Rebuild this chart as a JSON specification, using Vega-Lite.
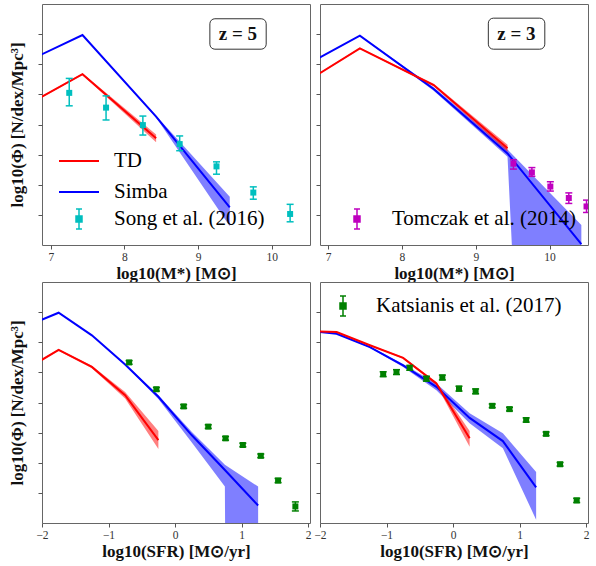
{
  "$schema": "https://vega.github.io/schema/vega-lite/v6.json",
  "padding": {"left": 8, "top": 3, "right": 5, "bottom": 5},
  "background": "white",
  "datasets": {
    "curves": [
      {"p": "TL", "m": "Simba", "x": 6.43, "y": -2.19, "lo": -2.2, "hi": -2.18},
      {"p": "TL", "m": "Simba", "x": 7.43, "y": -1.03, "lo": -1.04, "hi": -1.02},
      {"p": "TL", "m": "Simba", "x": 8.43, "y": -3.74, "lo": -3.77, "hi": -3.71},
      {"p": "TL", "m": "Simba", "x": 9.43, "y": -6.75, "lo": -7.38, "hi": -6.4},
      {"p": "TL", "m": "TD", "x": 6.43, "y": -3.69, "lo": -3.71, "hi": -3.67},
      {"p": "TL", "m": "TD", "x": 7.43, "y": -2.33, "lo": -2.36, "hi": -2.3},
      {"p": "TL", "m": "TD", "x": 8.43, "y": -4.46, "lo": -4.59, "hi": -4.33},
      {"p": "TR", "m": "Simba", "x": 6.43, "y": -2.39, "lo": -2.4, "hi": -2.38},
      {"p": "TR", "m": "Simba", "x": 7.43, "y": -1.05, "lo": -1.06, "hi": -1.04},
      {"p": "TR", "m": "Simba", "x": 8.43, "y": -2.82, "lo": -2.88, "hi": -2.76},
      {"p": "TR", "m": "Simba", "x": 9.43, "y": -4.96, "lo": -5.07, "hi": -4.83},
      {"p": "TR", "m": "Simba", "x": 10.43, "y": -7.97, "lo": -55, "hi": -7.34},
      {"p": "TR", "m": "TD", "x": 6.43, "y": -3.0, "lo": -3.02, "hi": -2.98},
      {"p": "TR", "m": "TD", "x": 7.43, "y": -1.47, "lo": -1.49, "hi": -1.45},
      {"p": "TR", "m": "TD", "x": 8.43, "y": -2.69, "lo": -2.73, "hi": -2.65},
      {"p": "TR", "m": "TD", "x": 9.43, "y": -4.79, "lo": -4.91, "hi": -4.67},
      {"p": "BL", "m": "Simba", "x": -2.25, "y": -1.48, "lo": -1.49, "hi": -1.47},
      {"p": "BL", "m": "Simba", "x": -1.75, "y": -1.02, "lo": -1.03, "hi": -1.01},
      {"p": "BL", "m": "Simba", "x": -1.25, "y": -1.77, "lo": -1.78, "hi": -1.76},
      {"p": "BL", "m": "Simba", "x": -0.75, "y": -2.74, "lo": -2.76, "hi": -2.72},
      {"p": "BL", "m": "Simba", "x": -0.25, "y": -3.81, "lo": -3.88, "hi": -3.76},
      {"p": "BL", "m": "Simba", "x": 0.25, "y": -5.08, "lo": -5.32, "hi": -4.97},
      {"p": "BL", "m": "Simba", "x": 0.75, "y": -6.24, "lo": -6.79, "hi": -6.07},
      {"p": "BL", "m": "Simba", "x": 1.25, "y": -7.42, "lo": -200, "hi": -6.79},
      {"p": "BL", "m": "TD", "x": -2.25, "y": -2.91, "lo": -2.93, "hi": -2.89},
      {"p": "BL", "m": "TD", "x": -1.75, "y": -2.25, "lo": -2.28, "hi": -2.22},
      {"p": "BL", "m": "TD", "x": -1.25, "y": -2.82, "lo": -2.86, "hi": -2.78},
      {"p": "BL", "m": "TD", "x": -0.75, "y": -3.76, "lo": -3.87, "hi": -3.65},
      {"p": "BL", "m": "TD", "x": -0.25, "y": -5.25, "lo": -5.54, "hi": -4.95},
      {"p": "BR", "m": "Simba", "x": -2.25, "y": -1.6, "lo": -1.61, "hi": -1.59},
      {"p": "BR", "m": "Simba", "x": -1.75, "y": -1.72, "lo": -1.73, "hi": -1.71},
      {"p": "BR", "m": "Simba", "x": -1.25, "y": -2.16, "lo": -2.18, "hi": -2.14},
      {"p": "BR", "m": "Simba", "x": -0.75, "y": -2.77, "lo": -2.82, "hi": -2.72},
      {"p": "BR", "m": "Simba", "x": -0.25, "y": -3.48, "lo": -3.59, "hi": -3.37},
      {"p": "BR", "m": "Simba", "x": 0.25, "y": -4.51, "lo": -4.69, "hi": -4.36},
      {"p": "BR", "m": "Simba", "x": 0.75, "y": -5.28, "lo": -5.52, "hi": -5.02},
      {"p": "BR", "m": "Simba", "x": 1.25, "y": -6.82, "lo": -7.89, "hi": -6.31},
      {"p": "BR", "m": "TD", "x": -2.25, "y": -1.62, "lo": -1.63, "hi": -1.61},
      {"p": "BR", "m": "TD", "x": -1.75, "y": -1.66, "lo": -1.67, "hi": -1.65},
      {"p": "BR", "m": "TD", "x": -1.25, "y": -2.1, "lo": -2.12, "hi": -2.08},
      {"p": "BR", "m": "TD", "x": -0.75, "y": -2.52, "lo": -2.55, "hi": -2.49},
      {"p": "BR", "m": "TD", "x": -0.25, "y": -3.37, "lo": -3.42, "hi": -3.32},
      {"p": "BR", "m": "TD", "x": 0.25, "y": -5.19, "lo": -5.47, "hi": -4.95}
    ],
    "obs": [
      {"p": "TL", "s": "Song et al. (2016)", "x": 7.25, "y": -2.95, "lo": -3.38, "hi": -2.47},
      {"p": "TL", "s": "Song et al. (2016)", "x": 7.75, "y": -3.44, "lo": -3.85, "hi": -3.05},
      {"p": "TL", "s": "Song et al. (2016)", "x": 8.25, "y": -4.02, "lo": -4.35, "hi": -3.72},
      {"p": "TL", "s": "Song et al. (2016)", "x": 8.75, "y": -4.65, "lo": -4.87, "hi": -4.38},
      {"p": "TL", "s": "Song et al. (2016)", "x": 9.25, "y": -5.39, "lo": -5.65, "hi": -5.24},
      {"p": "TL", "s": "Song et al. (2016)", "x": 9.75, "y": -6.26, "lo": -6.48, "hi": -6.07},
      {"p": "TL", "s": "Song et al. (2016)", "x": 10.25, "y": -6.97, "lo": -7.23, "hi": -6.65},
      {"p": "TR", "s": "Tomczak et al. (2014)", "x": 9.51, "y": -5.3, "lo": -5.48, "hi": -5.17},
      {"p": "TR", "s": "Tomczak et al. (2014)", "x": 9.76, "y": -5.59, "lo": -5.72, "hi": -5.43},
      {"p": "TR", "s": "Tomczak et al. (2014)", "x": 10.01, "y": -6.06, "lo": -6.21, "hi": -5.9},
      {"p": "TR", "s": "Tomczak et al. (2014)", "x": 10.26, "y": -6.44, "lo": -6.62, "hi": -6.27},
      {"p": "TR", "s": "Tomczak et al. (2014)", "x": 10.5, "y": -6.72, "lo": -6.92, "hi": -6.51},
      {"p": "BL", "s": "Katsianis et al. (2017)", "x": -0.69, "y": -2.67, "lo": -2.73, "hi": -2.61},
      {"p": "BL", "s": "Katsianis et al. (2017)", "x": -0.28, "y": -3.56, "lo": -3.62, "hi": -3.5},
      {"p": "BL", "s": "Katsianis et al. (2017)", "x": 0.13, "y": -4.13, "lo": -4.19, "hi": -4.07},
      {"p": "BL", "s": "Katsianis et al. (2017)", "x": 0.5, "y": -4.8, "lo": -4.86, "hi": -4.74},
      {"p": "BL", "s": "Katsianis et al. (2017)", "x": 0.76, "y": -5.19, "lo": -5.25, "hi": -5.13},
      {"p": "BL", "s": "Katsianis et al. (2017)", "x": 1.02, "y": -5.41, "lo": -5.47, "hi": -5.35},
      {"p": "BL", "s": "Katsianis et al. (2017)", "x": 1.29, "y": -5.77, "lo": -5.83, "hi": -5.71},
      {"p": "BL", "s": "Katsianis et al. (2017)", "x": 1.55, "y": -6.59, "lo": -6.66, "hi": -6.52},
      {"p": "BL", "s": "Katsianis et al. (2017)", "x": 1.81, "y": -7.45, "lo": -7.6, "hi": -7.3},
      {"p": "BR", "s": "Katsianis et al. (2017)", "x": -1.05, "y": -3.06, "lo": -3.14, "hi": -2.98},
      {"p": "BR", "s": "Katsianis et al. (2017)", "x": -0.85, "y": -2.99, "lo": -3.07, "hi": -2.91},
      {"p": "BR", "s": "Katsianis et al. (2017)", "x": -0.65, "y": -2.85, "lo": -2.93, "hi": -2.77},
      {"p": "BR", "s": "Katsianis et al. (2017)", "x": -0.4, "y": -3.21, "lo": -3.29, "hi": -3.13},
      {"p": "BR", "s": "Katsianis et al. (2017)", "x": -0.16, "y": -3.17, "lo": -3.25, "hi": -3.09},
      {"p": "BR", "s": "Katsianis et al. (2017)", "x": 0.09, "y": -3.54, "lo": -3.62, "hi": -3.46},
      {"p": "BR", "s": "Katsianis et al. (2017)", "x": 0.34, "y": -3.63, "lo": -3.71, "hi": -3.55},
      {"p": "BR", "s": "Katsianis et al. (2017)", "x": 0.59, "y": -4.11, "lo": -4.17, "hi": -4.05},
      {"p": "BR", "s": "Katsianis et al. (2017)", "x": 0.85, "y": -4.22, "lo": -4.28, "hi": -4.16},
      {"p": "BR", "s": "Katsianis et al. (2017)", "x": 1.1, "y": -4.58, "lo": -4.65, "hi": -4.51},
      {"p": "BR", "s": "Katsianis et al. (2017)", "x": 1.4, "y": -5.04, "lo": -5.1, "hi": -4.98},
      {"p": "BR", "s": "Katsianis et al. (2017)", "x": 1.61, "y": -6.05, "lo": -6.11, "hi": -5.99},
      {"p": "BR", "s": "Katsianis et al. (2017)", "x": 1.86, "y": -7.25, "lo": -7.32, "hi": -7.18}
    ]
  },
  "config": {
    "view": {"stroke": "#666666", "strokeWidth": 1},
    "font": "Liberation Serif",
    "axis": {
      "grid": false, "domain": false, "tickColor": "#555555", "tickSize": 4, "labelFlush": false, "labelOverlap": false,
      "labelFont": "Liberation Serif", "labelFontSize": 11.5, "labelColor": "#333333", "labelPadding": 2,
      "titleFont": "Liberation Serif", "titleFontSize": 17, "titleFontWeight": "bold", "titleColor": "#111111"
    },
    "axisX": {"titlePadding": 3},
    "axisY": {"titlePadding": 11},
    "legend": {"labelFont": "Liberation Serif", "labelFontSize": 21, "labelColor": "#000000", "labelLimit": 400, "padding": 0}
  },
  "columns": 2,
  "spacing": {"row": -2, "column": 1},
  "resolve": {"scale": {"color": "independent", "stroke": "independent", "fill": "independent"}},
  "concat": [
    {
      "width": 268, "height": 241,
      "layer": [
        {"data": {"name": "curves"}, "transform": [{"filter": "datum.p == 'TL'"}],
         "mark": {"type": "area", "clip": true, "opacity": 0.5},
         "encoding": {
           "x": {"field": "x", "type": "quantitative", "scale": {"domain": [6.88, 10.52], "nice": false, "zero": false}, "axis": {"values": [7, 8, 9, 10], "format": "d", "title": "log10(M*) [M⊙]"}},
           "y": {"field": "hi", "type": "quantitative", "scale": {"domain": [-8, 0], "nice": false}, "axis": {"values": [-7, -6, -5, -4, -3, -2, -1], "labels": false, "title": "log10(Φ) [N/dex/Mpc³]"}}, "y2": {"field": "lo"},
           "fill": {"field": "m", "type": "nominal", "scale": {"domain": ["Simba", "TD"], "range": ["#0000ff", "#ff0000"]}, "legend": null}}},
        {"data": {"name": "curves"}, "transform": [{"filter": "datum.p == 'TL'"}],
         "mark": {"type": "line", "clip": true, "strokeWidth": 2},
         "encoding": {
           "x": {"field": "x", "type": "quantitative", "scale": {"domain": [6.88, 10.52], "nice": false, "zero": false}, "axis": {"values": [7, 8, 9, 10], "format": "d", "title": "log10(M*) [M⊙]"}},
           "y": {"field": "y", "type": "quantitative", "scale": {"domain": [-8, 0], "nice": false}, "axis": {"values": [-7, -6, -5, -4, -3, -2, -1], "labels": false, "title": "log10(Φ) [N/dex/Mpc³]"}},
           "stroke": {"field": "m", "type": "nominal", "scale": {"domain": ["TD", "Simba"], "range": ["#ff0000", "#0000ff"]},
             "legend": {"title": null, "orient": "none", "legendX": 26, "legendY": 146, "symbolType": "M-2,0H2", "symbolSize": 400, "symbolStrokeWidth": 2, "labelOffset": 24, "rowPadding": 10}}}},
        {"data": {"name": "obs"}, "transform": [{"filter": "datum.p == 'TL'"}],
         "mark": {"type": "rule", "clip": true, "strokeWidth": 1.5},
         "encoding": {
           "x": {"field": "x", "type": "quantitative", "scale": {"domain": [6.88, 10.52], "nice": false, "zero": false}, "axis": {"values": [7, 8, 9, 10], "format": "d", "title": "log10(M*) [M⊙]"}},
           "y": {"field": "hi", "type": "quantitative", "scale": {"domain": [-8, 0], "nice": false}, "axis": {"values": [-7, -6, -5, -4, -3, -2, -1], "labels": false, "title": "log10(Φ) [N/dex/Mpc³]"}}, "y2": {"field": "lo"},
           "color": {"field": "s", "type": "nominal", "scale": {"range": ["#00bfbf"]},
             "legend": {"title": null, "orient": "none", "legendX": 26, "legendY": 204, "symbolType": "M0,-1V1M-0.3,-1H0.3M-0.3,1H0.3M-0.3,-0.3H0.3V0.3H-0.3Z", "symbolSize": 400, "symbolStrokeWidth": 1.5, "symbolFillColor": "#00bfbf", "labelOffset": 24}}}},
        {"data": {"name": "obs"}, "transform": [{"filter": "datum.p == 'TL'"}],
         "mark": {"type": "tick", "orient": "horizontal", "clip": true, "size": 7, "thickness": 1.5, "color": "#00bfbf", "opacity": 1},
         "encoding": {
           "x": {"field": "x", "type": "quantitative", "scale": {"domain": [6.88, 10.52], "nice": false, "zero": false}, "axis": {"values": [7, 8, 9, 10], "format": "d", "title": "log10(M*) [M⊙]"}},
           "y": {"field": "hi", "type": "quantitative", "scale": {"domain": [-8, 0], "nice": false}, "axis": {"values": [-7, -6, -5, -4, -3, -2, -1], "labels": false, "title": "log10(Φ) [N/dex/Mpc³]"}}}},
        {"data": {"name": "obs"}, "transform": [{"filter": "datum.p == 'TL'"}],
         "mark": {"type": "tick", "orient": "horizontal", "clip": true, "size": 7, "thickness": 1.5, "color": "#00bfbf", "opacity": 1},
         "encoding": {
           "x": {"field": "x", "type": "quantitative", "scale": {"domain": [6.88, 10.52], "nice": false, "zero": false}, "axis": {"values": [7, 8, 9, 10], "format": "d", "title": "log10(M*) [M⊙]"}},
           "y": {"field": "lo", "type": "quantitative", "scale": {"domain": [-8, 0], "nice": false}, "axis": {"values": [-7, -6, -5, -4, -3, -2, -1], "labels": false, "title": "log10(Φ) [N/dex/Mpc³]"}}}},
        {"data": {"name": "obs"}, "transform": [{"filter": "datum.p == 'TL'"}],
         "mark": {"type": "square", "clip": true, "size": 36, "color": "#00bfbf", "opacity": 1},
         "encoding": {
           "x": {"field": "x", "type": "quantitative", "scale": {"domain": [6.88, 10.52], "nice": false, "zero": false}, "axis": {"values": [7, 8, 9, 10], "format": "d", "title": "log10(M*) [M⊙]"}},
           "y": {"field": "y", "type": "quantitative", "scale": {"domain": [-8, 0], "nice": false}, "axis": {"values": [-7, -6, -5, -4, -3, -2, -1], "labels": false, "title": "log10(Φ) [N/dex/Mpc³]"}}}},
        {"data": {"values": [{"t": "z = 5"}]},
         "mark": {"type": "rect", "fill": "white", "stroke": "#333333", "strokeWidth": 1, "cornerRadius": 5},
         "encoding": {
           "x": {"datum": 9.16, "type": "quantitative", "axis": {"values": [7, 8, 9, 10], "format": "d", "title": "log10(M*) [M⊙]"}}, "x2": {"datum": 9.925},
           "y": {"datum": -0.49, "type": "quantitative", "axis": {"values": [-7, -6, -5, -4, -3, -2, -1], "labels": false, "title": "log10(Φ) [N/dex/Mpc³]"}}, "y2": {"datum": -1.5}}},
        {"data": {"values": [{"t": "z = 5"}]},
         "mark": {"type": "text", "font": "Liberation Serif", "fontSize": 19, "fontWeight": "bold", "align": "center", "baseline": "middle", "color": "#111111"},
         "encoding": {
           "x": {"datum": 9.54, "type": "quantitative", "axis": {"values": [7, 8, 9, 10], "format": "d", "title": "log10(M*) [M⊙]"}},
           "y": {"datum": -1.0, "type": "quantitative", "axis": {"values": [-7, -6, -5, -4, -3, -2, -1], "labels": false, "title": "log10(Φ) [N/dex/Mpc³]"}}, "text": {"field": "t"}}}
      ]
    },
    {
      "width": 268, "height": 241,
      "layer": [
        {"data": {"name": "curves"}, "transform": [{"filter": "datum.p == 'TR'"}],
         "mark": {"type": "area", "clip": true, "opacity": 0.5},
         "encoding": {
           "x": {"field": "x", "type": "quantitative", "scale": {"domain": [6.89, 10.52], "nice": false, "zero": false}, "axis": {"values": [7, 8, 9, 10], "format": "d", "title": "log10(M*) [M⊙]"}},
           "y": {"field": "hi", "type": "quantitative", "scale": {"domain": [-8, 0], "nice": false}, "axis": {"values": [-7, -6, -5, -4, -3, -2, -1], "labels": false, "title": null}}, "y2": {"field": "lo"},
           "fill": {"field": "m", "type": "nominal", "scale": {"domain": ["Simba", "TD"], "range": ["#0000ff", "#ff0000"]}, "legend": null}}},
        {"data": {"name": "curves"}, "transform": [{"filter": "datum.p == 'TR'"}],
         "mark": {"type": "line", "clip": true, "strokeWidth": 2},
         "encoding": {
           "x": {"field": "x", "type": "quantitative", "scale": {"domain": [6.89, 10.52], "nice": false, "zero": false}, "axis": {"values": [7, 8, 9, 10], "format": "d", "title": "log10(M*) [M⊙]"}},
           "y": {"field": "y", "type": "quantitative", "scale": {"domain": [-8, 0], "nice": false}, "axis": {"values": [-7, -6, -5, -4, -3, -2, -1], "labels": false, "title": null}},
           "stroke": {"field": "m", "type": "nominal", "scale": {"domain": ["TD", "Simba"], "range": ["#ff0000", "#0000ff"]}, "legend": null}}},
        {"data": {"name": "obs"}, "transform": [{"filter": "datum.p == 'TR'"}],
         "mark": {"type": "rule", "clip": true, "strokeWidth": 1.5},
         "encoding": {
           "x": {"field": "x", "type": "quantitative", "scale": {"domain": [6.89, 10.52], "nice": false, "zero": false}, "axis": {"values": [7, 8, 9, 10], "format": "d", "title": "log10(M*) [M⊙]"}},
           "y": {"field": "hi", "type": "quantitative", "scale": {"domain": [-8, 0], "nice": false}, "axis": {"values": [-7, -6, -5, -4, -3, -2, -1], "labels": false, "title": null}}, "y2": {"field": "lo"},
           "color": {"field": "s", "type": "nominal", "scale": {"range": ["#bf00bf"]},
             "legend": {"title": null, "orient": "none", "legendX": 26, "legendY": 204, "symbolType": "M0,-1V1M-0.3,-1H0.3M-0.3,1H0.3M-0.3,-0.3H0.3V0.3H-0.3Z", "symbolSize": 400, "symbolStrokeWidth": 1.5, "symbolFillColor": "#bf00bf", "labelOffset": 24}}}},
        {"data": {"name": "obs"}, "transform": [{"filter": "datum.p == 'TR'"}],
         "mark": {"type": "tick", "orient": "horizontal", "clip": true, "size": 7, "thickness": 1.5, "color": "#bf00bf", "opacity": 1},
         "encoding": {
           "x": {"field": "x", "type": "quantitative", "scale": {"domain": [6.89, 10.52], "nice": false, "zero": false}, "axis": {"values": [7, 8, 9, 10], "format": "d", "title": "log10(M*) [M⊙]"}},
           "y": {"field": "hi", "type": "quantitative", "scale": {"domain": [-8, 0], "nice": false}, "axis": {"values": [-7, -6, -5, -4, -3, -2, -1], "labels": false, "title": null}}}},
        {"data": {"name": "obs"}, "transform": [{"filter": "datum.p == 'TR'"}],
         "mark": {"type": "tick", "orient": "horizontal", "clip": true, "size": 7, "thickness": 1.5, "color": "#bf00bf", "opacity": 1},
         "encoding": {
           "x": {"field": "x", "type": "quantitative", "scale": {"domain": [6.89, 10.52], "nice": false, "zero": false}, "axis": {"values": [7, 8, 9, 10], "format": "d", "title": "log10(M*) [M⊙]"}},
           "y": {"field": "lo", "type": "quantitative", "scale": {"domain": [-8, 0], "nice": false}, "axis": {"values": [-7, -6, -5, -4, -3, -2, -1], "labels": false, "title": null}}}},
        {"data": {"name": "obs"}, "transform": [{"filter": "datum.p == 'TR'"}],
         "mark": {"type": "square", "clip": true, "size": 36, "color": "#bf00bf", "opacity": 1},
         "encoding": {
           "x": {"field": "x", "type": "quantitative", "scale": {"domain": [6.89, 10.52], "nice": false, "zero": false}, "axis": {"values": [7, 8, 9, 10], "format": "d", "title": "log10(M*) [M⊙]"}},
           "y": {"field": "y", "type": "quantitative", "scale": {"domain": [-8, 0], "nice": false}, "axis": {"values": [-7, -6, -5, -4, -3, -2, -1], "labels": false, "title": null}}}},
        {"data": {"values": [{"t": "z = 3"}]},
         "mark": {"type": "rect", "fill": "white", "stroke": "#333333", "strokeWidth": 1, "cornerRadius": 5},
         "encoding": {
           "x": {"datum": 9.17, "type": "quantitative", "axis": {"values": [7, 8, 9, 10], "format": "d", "title": "log10(M*) [M⊙]"}}, "x2": {"datum": 9.935},
           "y": {"datum": -0.47, "type": "quantitative", "axis": {"values": [-7, -6, -5, -4, -3, -2, -1], "labels": false, "title": null}}, "y2": {"datum": -1.5}}},
        {"data": {"values": [{"t": "z = 3"}]},
         "mark": {"type": "text", "font": "Liberation Serif", "fontSize": 19, "fontWeight": "bold", "align": "center", "baseline": "middle", "color": "#111111"},
         "encoding": {
           "x": {"datum": 9.55, "type": "quantitative", "axis": {"values": [7, 8, 9, 10], "format": "d", "title": "log10(M*) [M⊙]"}},
           "y": {"datum": -0.99, "type": "quantitative", "axis": {"values": [-7, -6, -5, -4, -3, -2, -1], "labels": false, "title": null}}, "text": {"field": "t"}}}
      ]
    },
    {
      "width": 268, "height": 241,
      "layer": [
        {"data": {"name": "curves"}, "transform": [{"filter": "datum.p == 'BL'"}],
         "mark": {"type": "area", "clip": true, "opacity": 0.5},
         "encoding": {
           "x": {"field": "x", "type": "quantitative", "scale": {"domain": [-2, 2.03], "nice": false, "zero": false}, "axis": {"values": [-2, -1, 0, 1, 2], "format": "d", "title": "log10(SFR) [M⊙/yr]"}},
           "y": {"field": "hi", "type": "quantitative", "scale": {"domain": [-8, 0], "nice": false}, "axis": {"values": [-7, -6, -5, -4, -3, -2, -1], "labels": false, "title": "log10(Φ) [N/dex/Mpc³]"}}, "y2": {"field": "lo"},
           "fill": {"field": "m", "type": "nominal", "scale": {"domain": ["Simba", "TD"], "range": ["#0000ff", "#ff0000"]}, "legend": null}}},
        {"data": {"name": "curves"}, "transform": [{"filter": "datum.p == 'BL'"}],
         "mark": {"type": "line", "clip": true, "strokeWidth": 2},
         "encoding": {
           "x": {"field": "x", "type": "quantitative", "scale": {"domain": [-2, 2.03], "nice": false, "zero": false}, "axis": {"values": [-2, -1, 0, 1, 2], "format": "d", "title": "log10(SFR) [M⊙/yr]"}},
           "y": {"field": "y", "type": "quantitative", "scale": {"domain": [-8, 0], "nice": false}, "axis": {"values": [-7, -6, -5, -4, -3, -2, -1], "labels": false, "title": "log10(Φ) [N/dex/Mpc³]"}},
           "stroke": {"field": "m", "type": "nominal", "scale": {"domain": ["TD", "Simba"], "range": ["#ff0000", "#0000ff"]}, "legend": null}}},
        {"data": {"name": "obs"}, "transform": [{"filter": "datum.p == 'BL'"}],
         "mark": {"type": "rule", "clip": true, "strokeWidth": 1.5, "color": "#008000"},
         "encoding": {
           "x": {"field": "x", "type": "quantitative", "scale": {"domain": [-2, 2.03], "nice": false, "zero": false}, "axis": {"values": [-2, -1, 0, 1, 2], "format": "d", "title": "log10(SFR) [M⊙/yr]"}},
           "y": {"field": "hi", "type": "quantitative", "scale": {"domain": [-8, 0], "nice": false}, "axis": {"values": [-7, -6, -5, -4, -3, -2, -1], "labels": false, "title": "log10(Φ) [N/dex/Mpc³]"}}, "y2": {"field": "lo"}}},
        {"data": {"name": "obs"}, "transform": [{"filter": "datum.p == 'BL'"}],
         "mark": {"type": "tick", "orient": "horizontal", "clip": true, "size": 7, "thickness": 1.5, "color": "#008000", "opacity": 1},
         "encoding": {
           "x": {"field": "x", "type": "quantitative", "scale": {"domain": [-2, 2.03], "nice": false, "zero": false}, "axis": {"values": [-2, -1, 0, 1, 2], "format": "d", "title": "log10(SFR) [M⊙/yr]"}},
           "y": {"field": "hi", "type": "quantitative", "scale": {"domain": [-8, 0], "nice": false}, "axis": {"values": [-7, -6, -5, -4, -3, -2, -1], "labels": false, "title": "log10(Φ) [N/dex/Mpc³]"}}}},
        {"data": {"name": "obs"}, "transform": [{"filter": "datum.p == 'BL'"}],
         "mark": {"type": "tick", "orient": "horizontal", "clip": true, "size": 7, "thickness": 1.5, "color": "#008000", "opacity": 1},
         "encoding": {
           "x": {"field": "x", "type": "quantitative", "scale": {"domain": [-2, 2.03], "nice": false, "zero": false}, "axis": {"values": [-2, -1, 0, 1, 2], "format": "d", "title": "log10(SFR) [M⊙/yr]"}},
           "y": {"field": "lo", "type": "quantitative", "scale": {"domain": [-8, 0], "nice": false}, "axis": {"values": [-7, -6, -5, -4, -3, -2, -1], "labels": false, "title": "log10(Φ) [N/dex/Mpc³]"}}}},
        {"data": {"name": "obs"}, "transform": [{"filter": "datum.p == 'BL'"}],
         "mark": {"type": "square", "clip": true, "size": 36, "color": "#008000", "opacity": 1},
         "encoding": {
           "x": {"field": "x", "type": "quantitative", "scale": {"domain": [-2, 2.03], "nice": false, "zero": false}, "axis": {"values": [-2, -1, 0, 1, 2], "format": "d", "title": "log10(SFR) [M⊙/yr]"}},
           "y": {"field": "y", "type": "quantitative", "scale": {"domain": [-8, 0], "nice": false}, "axis": {"values": [-7, -6, -5, -4, -3, -2, -1], "labels": false, "title": "log10(Φ) [N/dex/Mpc³]"}}}}
      ]
    },
    {
      "width": 268, "height": 241,
      "layer": [
        {"data": {"name": "curves"}, "transform": [{"filter": "datum.p == 'BR'"}],
         "mark": {"type": "area", "clip": true, "opacity": 0.5},
         "encoding": {
           "x": {"field": "x", "type": "quantitative", "scale": {"domain": [-2, 2.03], "nice": false, "zero": false}, "axis": {"values": [-2, -1, 0, 1, 2], "format": "d", "title": "log10(SFR) [M⊙/yr]"}},
           "y": {"field": "hi", "type": "quantitative", "scale": {"domain": [-8, 0], "nice": false}, "axis": {"values": [-7, -6, -5, -4, -3, -2, -1], "labels": false, "title": null}}, "y2": {"field": "lo"},
           "fill": {"field": "m", "type": "nominal", "scale": {"domain": ["Simba", "TD"], "range": ["#0000ff", "#ff0000"]}, "legend": null}}},
        {"data": {"name": "curves"}, "transform": [{"filter": "datum.p == 'BR'"}],
         "mark": {"type": "line", "clip": true, "strokeWidth": 2},
         "encoding": {
           "x": {"field": "x", "type": "quantitative", "scale": {"domain": [-2, 2.03], "nice": false, "zero": false}, "axis": {"values": [-2, -1, 0, 1, 2], "format": "d", "title": "log10(SFR) [M⊙/yr]"}},
           "y": {"field": "y", "type": "quantitative", "scale": {"domain": [-8, 0], "nice": false}, "axis": {"values": [-7, -6, -5, -4, -3, -2, -1], "labels": false, "title": null}},
           "stroke": {"field": "m", "type": "nominal", "scale": {"domain": ["TD", "Simba"], "range": ["#ff0000", "#0000ff"]}, "legend": null}}},
        {"data": {"name": "obs"}, "transform": [{"filter": "datum.p == 'BR'"}],
         "mark": {"type": "rule", "clip": true, "strokeWidth": 1.5},
         "encoding": {
           "x": {"field": "x", "type": "quantitative", "scale": {"domain": [-2, 2.03], "nice": false, "zero": false}, "axis": {"values": [-2, -1, 0, 1, 2], "format": "d", "title": "log10(SFR) [M⊙/yr]"}},
           "y": {"field": "hi", "type": "quantitative", "scale": {"domain": [-8, 0], "nice": false}, "axis": {"values": [-7, -6, -5, -4, -3, -2, -1], "labels": false, "title": null}}, "y2": {"field": "lo"},
           "color": {"field": "s", "type": "nominal", "scale": {"range": ["#008000"]},
             "legend": {"title": null, "orient": "none", "legendX": 12, "legendY": 13, "symbolType": "M0,-1V1M-0.3,-1H0.3M-0.3,1H0.3M-0.3,-0.3H0.3V0.3H-0.3Z", "symbolSize": 400, "symbolStrokeWidth": 1.5, "symbolFillColor": "#008000", "labelOffset": 22}}}},
        {"data": {"name": "obs"}, "transform": [{"filter": "datum.p == 'BR'"}],
         "mark": {"type": "tick", "orient": "horizontal", "clip": true, "size": 7, "thickness": 1.5, "color": "#008000", "opacity": 1},
         "encoding": {
           "x": {"field": "x", "type": "quantitative", "scale": {"domain": [-2, 2.03], "nice": false, "zero": false}, "axis": {"values": [-2, -1, 0, 1, 2], "format": "d", "title": "log10(SFR) [M⊙/yr]"}},
           "y": {"field": "hi", "type": "quantitative", "scale": {"domain": [-8, 0], "nice": false}, "axis": {"values": [-7, -6, -5, -4, -3, -2, -1], "labels": false, "title": null}}}},
        {"data": {"name": "obs"}, "transform": [{"filter": "datum.p == 'BR'"}],
         "mark": {"type": "tick", "orient": "horizontal", "clip": true, "size": 7, "thickness": 1.5, "color": "#008000", "opacity": 1},
         "encoding": {
           "x": {"field": "x", "type": "quantitative", "scale": {"domain": [-2, 2.03], "nice": false, "zero": false}, "axis": {"values": [-2, -1, 0, 1, 2], "format": "d", "title": "log10(SFR) [M⊙/yr]"}},
           "y": {"field": "lo", "type": "quantitative", "scale": {"domain": [-8, 0], "nice": false}, "axis": {"values": [-7, -6, -5, -4, -3, -2, -1], "labels": false, "title": null}}}},
        {"data": {"name": "obs"}, "transform": [{"filter": "datum.p == 'BR'"}],
         "mark": {"type": "square", "clip": true, "size": 36, "color": "#008000", "opacity": 1},
         "encoding": {
           "x": {"field": "x", "type": "quantitative", "scale": {"domain": [-2, 2.03], "nice": false, "zero": false}, "axis": {"values": [-2, -1, 0, 1, 2], "format": "d", "title": "log10(SFR) [M⊙/yr]"}},
           "y": {"field": "y", "type": "quantitative", "scale": {"domain": [-8, 0], "nice": false}, "axis": {"values": [-7, -6, -5, -4, -3, -2, -1], "labels": false, "title": null}}}}
      ]
    }
  ]
}
